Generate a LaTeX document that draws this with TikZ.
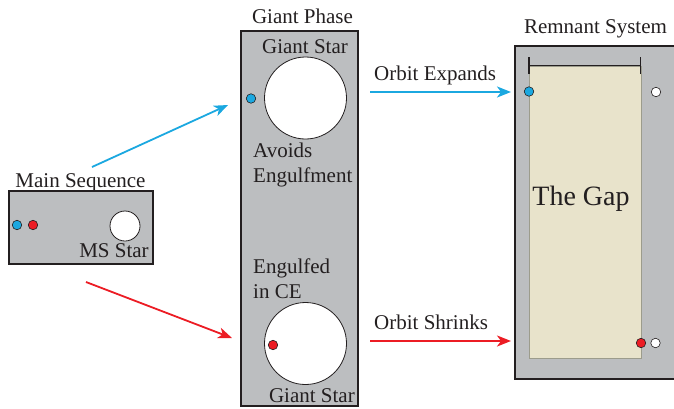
\documentclass[tikz,border=0pt]{standalone}
\usepackage{fontspec}
\setmainfont{Liberation Serif}
\usetikzlibrary{arrows.meta}
\definecolor{boxgray}{HTML}{BCBEC0}
\definecolor{gapbeige}{HTML}{E8E3CB}
\definecolor{gapedge}{HTML}{9C9C8C}
\definecolor{skyblue}{HTML}{1BA8E0}
\definecolor{starred}{HTML}{EC1C24}
\definecolor{edgecol}{HTML}{231F20}
\begin{document}
\begin{tikzpicture}[x=1pt,y=-1pt,
  panel/.style={draw=edgecol,fill=boxgray,line width=2pt,inner sep=0pt,rectangle},
  gapbox/.style={draw=gapedge,fill=gapbeige,line width=1pt,inner sep=0pt,rectangle},
  star/.style={circle,draw=edgecol,fill=white,line width=0.8pt,inner sep=0pt},
  planet/.style={circle,draw=edgecol,line width=0.6pt,inner sep=0pt,minimum size=9.5pt},
  lbl/.style={inner sep=0pt,font=\fontsize{21}{25}\selectfont,text=edgecol},
  barline/.style={line width=1.6pt,draw=edgecol},
  bluearrow/.style={draw=skyblue,line width=1.8pt,-{Stealth[length=14pt,width=11pt,inset=4pt]}},
  redarrow/.style={draw=starred,line width=1.8pt,-{Stealth[length=14pt,width=11pt,inset=4pt]}}]
\useasboundingbox (0,0) rectangle (674,408);
\clip (0,0) rectangle (674,408);

% panels
\node[panel,minimum width=144pt,minimum height=73pt] (ms) at (81,227.5) {};
\node[panel,minimum width=117pt,minimum height=375pt] (giant) at (299.5,218.5) {};
\node[panel,minimum width=170pt,minimum height=333pt] (remnant) at (600,212.5) {};
\node[gapbox,minimum width=112pt,minimum height=292pt] (gap) at (585,212) {};

% labels above panels
\node[lbl,anchor=base] (mslbl) at (80.5,187) {Main Sequence};
\node[lbl,anchor=base] (gplbl) at (302.5,23) {Giant Phase};
\node[lbl,anchor=base] (rslbl) at (595.5,33) {Remnant System};

% main sequence contents
\node[star,minimum size=30pt] (msstar) at (125,226) {};
\node[planet,fill=skyblue] (msblue) at (17,225) {};
\node[planet,fill=starred] (msred) at (33,225) {};
\node[lbl,anchor=base] (mstext) at (114,257) {MS Star};

% giant phase upper
\node[star,minimum size=82pt] (gstarup) at (305.5,98) {};
\node[planet,fill=skyblue] (gblue) at (251,98.5) {};
\node[lbl,anchor=base] (gstartxt) at (305,53) {Giant Star};
\node[lbl,anchor=base west] (avoid1) at (253,157) {Avoids};
\node[lbl,anchor=base west] (avoid2) at (253,182) {Engulfment};

% giant phase lower
\node[lbl,anchor=base west] (eng1) at (253,273) {Engulfed};
\node[lbl,anchor=base west] (eng2) at (253,298) {in CE};
\node[star,minimum size=82pt] (gstarlow) at (305.5,343.5) {};
\node[planet,fill=starred] (gred) at (273,345) {};
\node[lbl,anchor=base east] (gstartxt2) at (355,402) {Giant Star};

% remnant contents
\coordinate (barL) at (529,65.5);
\coordinate (barR) at (640.5,65.5);
\draw[barline] (barL) -- (barR);
\draw[barline] ([yshift=-8.5pt]barL) -- ([yshift=9pt]barL);
\draw[barline] ([yshift=-8.5pt]barR) -- ([yshift=9pt]barR);
\node[planet,fill=skyblue] (rblue) at (529,91.5) {};
\node[planet,fill=white] (rwhite1) at (656,92) {};
\node[planet,fill=starred] (rred) at (641,343) {};
\node[planet,fill=white] (rwhite2) at (655.5,343) {};
\node[inner sep=0pt,anchor=base,font=\fontsize{28}{32}\selectfont,text=edgecol] (gaptxt) at (581,205) {The Gap};

% arrows
\coordinate (a1s) at (92,167);
\coordinate (a1e) at (228,105);
\coordinate (a2s) at (86,282);
\coordinate (a2e) at (232,338);
\coordinate (a3s) at (370,92);
\coordinate (a3e) at (511,92);
\coordinate (a4s) at (370,341);
\coordinate (a4e) at (511,341);
\draw[bluearrow] (a1s) -- (a1e);
\draw[redarrow] (a2s) -- (a2e);
\draw[bluearrow] (a3s) -- (a3e);
\draw[redarrow] (a4s) -- (a4e);
\node[lbl,anchor=base west] (exp) at (374,80) {Orbit Expands};
\node[lbl,anchor=base west] (shr) at (374,329) {Orbit Shrinks};
\end{tikzpicture}
\end{document}
